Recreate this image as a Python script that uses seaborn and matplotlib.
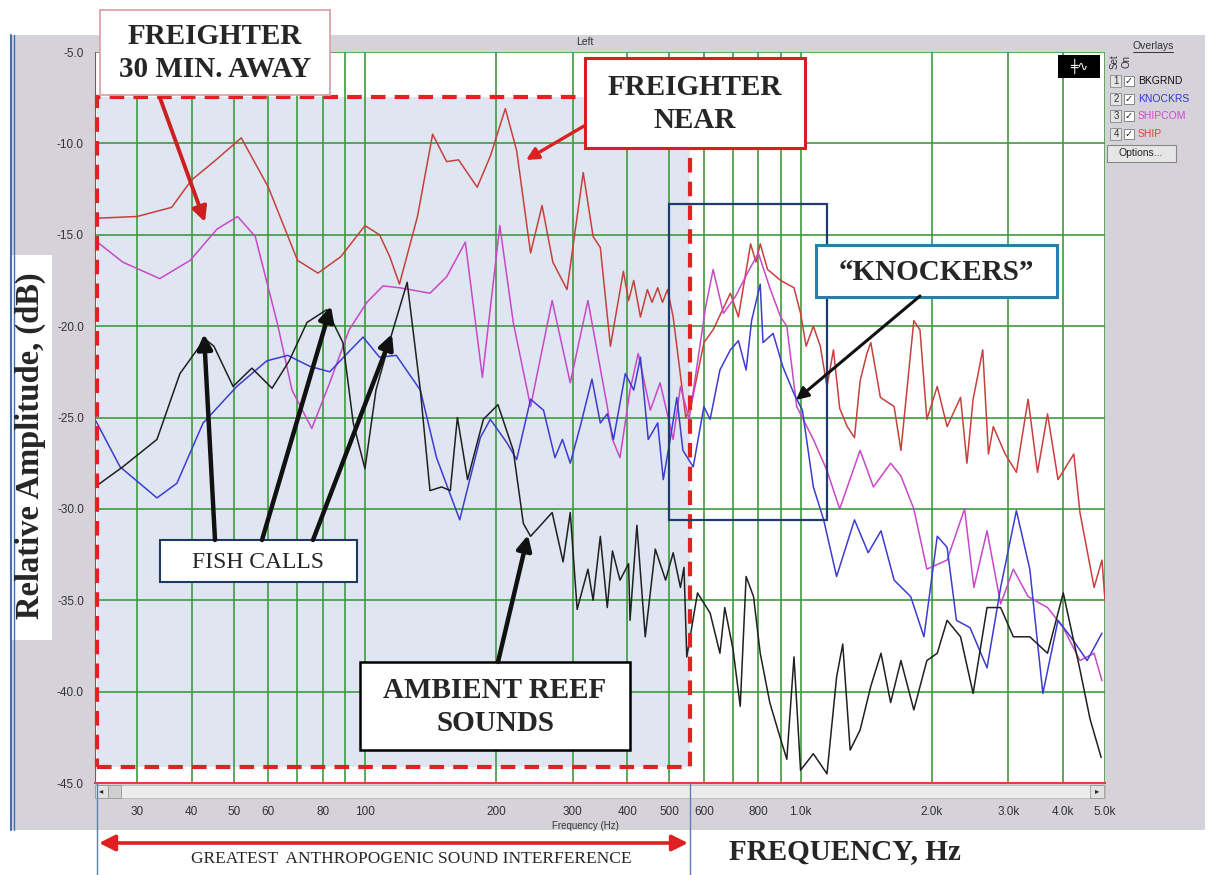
import numpy as np
import pandas as pd
import matplotlib
matplotlib.use("Agg")
import matplotlib.pyplot as plt
from matplotlib.patches import Rectangle, FancyArrowPatch
from matplotlib.lines import Line2D
import seaborn as sns

# ---- spectra (frequency in Hz, relative amplitude in dB) ----
ship_freq = [24, 30, 36, 40, 45, 52, 60, 70, 78, 88, 100, 108, 114, 120, 132, 143, 154, 164,
             181, 194, 210, 223, 240, 255, 270, 291, 317, 334, 347, 366, 392, 403, 414, 429,
             445, 456, 470, 482, 495, 510, 545, 560, 600, 630, 690, 720, 768, 790, 808, 840,
             900, 966, 1000, 1030, 1070, 1110, 1150, 1190, 1230, 1280, 1330, 1370, 1420, 1450,
             1525, 1640, 1700, 1820, 1880, 1950, 2060, 2170, 2330, 2410, 2490, 2620, 2700,
             2770, 2950, 3130, 3330, 3500, 3690, 3900, 4240, 4380, 4720, 4920, 5000]
ship_db = [-14.1, -14.0, -13.5, -12.0, -11.0, -9.7, -12.4, -16.4, -17.1, -16.2, -14.5, -15.0,
           -16.2, -17.7, -14.0, -9.5, -11.0, -10.9, -12.4, -10.7, -8.1, -10.4, -16.0, -13.4,
           -16.5, -18.0, -11.6, -15.1, -15.7, -21.1, -17.0, -18.6, -17.5, -19.5, -18.0, -18.7,
           -17.9, -18.7, -18.0, -19.5, -25.0, -24.4, -20.9, -20.2, -18.2, -19.5, -15.5, -16.5,
           -15.5, -16.9, -17.5, -17.9, -19.3, -21.1, -20.0, -21.1, -23.3, -21.3, -24.5, -25.5,
           -26.1, -23.0, -21.5, -20.9, -23.9, -24.4, -26.8, -19.7, -20.2, -25.1, -23.3, -25.5,
           -23.9, -27.5, -24.0, -21.3, -27.0, -25.5, -27.0, -28.0, -24.0, -28.0, -24.8, -28.4,
           -27.0, -30.2, -34.3, -32.8, -35.0]

shipcom_freq = [24, 27.8, 33.8, 39.7, 45.7, 51, 56, 63, 68, 75.5, 83, 92, 101, 110, 120, 141,
                154, 170, 186, 204, 219, 240, 269, 296, 325, 360, 370, 385, 406, 424, 452, 476,
                510, 530, 555, 605, 630, 665, 708, 755, 800, 850, 900, 930, 980, 1070, 1150,
                1230, 1370, 1470, 1610, 1700, 1820, 1950, 2170, 2380, 2500, 2680, 2880, 3080,
                3330, 3690, 4010, 4380, 4720, 4920]
shipcom_db = [-15.3, -16.5, -17.4, -16.4, -14.7, -14.0, -15.1, -19.9, -23.5, -25.6, -23.1,
              -20.2, -18.7, -17.8, -17.9, -18.2, -17.3, -15.4, -22.8, -14.5, -19.8, -24.4,
              -18.6, -23.1, -18.6, -24.4, -26.2, -27.2, -23.5, -21.5, -24.6, -23.1, -26.2,
              -23.3, -25.1, -19.0, -16.9, -19.3, -18.4, -17.1, -16.0, -17.9, -19.5, -20.0,
              -24.4, -26.2, -27.9, -30.0, -26.8, -28.8, -27.5, -28.2, -30.0, -33.3, -32.8,
              -30.0, -34.3, -31.2, -35.2, -33.3, -34.8, -35.4, -36.5, -38.3, -37.9, -39.4]

knockrs_freq = [24, 27.4, 33.3, 37, 42.5, 50.8, 59.5, 66.5, 74.7, 83, 91, 99, 108, 118, 134,
                146, 165, 184, 194, 212, 223, 240, 257, 273, 284, 296, 312, 332, 347, 360, 372,
                396, 414, 429, 447, 470, 484, 502, 520, 537, 567, 600, 620, 653, 690, 720, 750,
                772, 808, 820, 865, 910, 966, 1010, 1070, 1130, 1210, 1330, 1430, 1530, 1640,
                1790, 1920, 2060, 2170, 2280, 2450, 2680, 2880, 3130, 3360, 3600, 3900, 4170,
                4550, 4920]
knockrs_db = [-25.1, -27.7, -29.4, -28.6, -25.3, -23.3, -21.9, -21.6, -22.2, -22.5, -21.5,
              -20.6, -21.7, -21.6, -23.5, -27.2, -30.6, -26.1, -25.1, -26.4, -27.3, -24.0,
              -24.6, -27.2, -26.2, -27.5, -25.5, -22.9, -25.3, -24.8, -26.2, -22.6, -23.5,
              -21.7, -26.2, -25.3, -28.4, -26.2, -23.9, -26.8, -27.7, -24.4, -25.1, -22.4,
              -21.3, -20.8, -22.4, -19.7, -17.7, -20.9, -20.4, -22.2, -23.7, -24.6, -28.8,
              -30.6, -33.7, -30.6, -32.4, -31.2, -33.9, -34.8, -37.0, -31.5, -32.1, -36.1,
              -36.5, -38.7, -34.3, -30.1, -33.3, -40.1, -36.1, -37.0, -38.3, -36.8]

bkgrnd_freq = [24, 27.8, 33.3, 37.6, 42.9, 45, 49.8, 55, 61.2, 67, 73.6, 81.7, 89, 94, 100,
               106, 114, 125, 134, 141, 150, 157, 163, 172, 187, 202, 219, 231, 240, 269, 285,
               296, 307, 325, 334, 347, 360, 370, 385, 403, 406, 421, 440, 464, 490, 510, 530,
               540, 548, 580, 620, 653, 670, 700, 727, 750, 780, 808, 850, 900, 930, 966, 1000,
               1070, 1150, 1210, 1250, 1300, 1370, 1450, 1530, 1610, 1700, 1820, 1950, 2060,
               2170, 2330, 2490, 2680, 2880, 3080, 3360, 3690, 4010, 4380, 4620, 4900]
bkgrnd_db = [-28.8, -27.7, -26.2, -22.6, -20.7, -21.1, -23.3, -22.3, -23.4, -21.9, -19.8,
             -19.1, -20.9, -25.3, -27.8, -23.5, -20.8, -17.6, -23.5, -29.0, -28.8, -29.0,
             -25.0, -28.4, -25.1, -24.3, -26.8, -30.8, -31.5, -30.2, -32.9, -30.2, -35.5,
             -33.3, -35.0, -31.5, -35.4, -32.3, -33.9, -33.0, -36.1, -30.9, -37.0, -32.2,
             -33.9, -32.4, -34.3, -33.2, -38.1, -34.6, -35.7, -37.9, -35.4, -37.7, -40.8,
             -33.7, -34.8, -37.9, -40.6, -42.6, -43.7, -38.1, -44.3, -43.4, -44.5, -39.2,
             -37.4, -43.2, -42.1, -39.7, -37.9, -40.6, -38.3, -41.0, -38.3, -37.9, -36.1,
             -37.0, -40.1, -35.4, -35.4, -37.0, -37.0, -37.9, -34.6, -38.8, -41.5, -43.6]

series_names = ["SHIP", "SHIPCOM", "KNOCKRS", "BKGRND"]
series_colors = {"SHIP": "#c8403c", "SHIPCOM": "#c848c8", "KNOCKRS": "#3c3cd0", "BKGRND": "#202020"}

x_major = [30, 40, 50, 60, 80, 100, 200, 300, 400, 500, 600, 800, 1000, 2000, 3000, 4000, 5000]
x_major_labels = ["30", "40", "50", "60", "80", "100", "200", "300", "400", "500", "600", "800",
                  "1.0k", "2.0k", "3.0k", "4.0k", "5.0k"]
x_minor = [70, 90, 700, 900]
y_ticks = [-5, -10, -15, -20, -25, -30, -35, -40, -45]
y_labels = ["-5.0", "-10.0", "-15.0", "-20.0", "-25.0", "-30.0", "-35.0", "-40.0", "-45.0"]

W, H = 1209, 875


def fx(x):
    return x / W


def fy(y):
    return 1 - y / H


def main():
    frames = []
    for name, fr, db in [("SHIP", ship_freq, ship_db), ("SHIPCOM", shipcom_freq, shipcom_db),
                         ("KNOCKRS", knockrs_freq, knockrs_db), ("BKGRND", bkgrnd_freq, bkgrnd_db)]:
        frames.append(pd.DataFrame({"freq": fr, "db": db, "series": name}))
    df = pd.concat(frames, ignore_index=True)

    sns.set_style("white")
    plt.rcParams["font.family"] = ["Liberation Sans", "DejaVu Sans"]

    fig = plt.figure(figsize=(W / 100, H / 100), dpi=100)
    fig.patch.set_facecolor("white")

    def rect(x0, y0, x1, y1, **kw):
        r = Rectangle((fx(x0), fy(y1)), (x1 - x0) / W, (y1 - y0) / H,
                      transform=fig.transFigure, **kw)
        fig.add_artist(r)
        return r

    def arrow(x0, y0, x1, y1, color, lw, scale=22, style="-|>"):
        a = FancyArrowPatch((fx(x0), fy(y0)), (fx(x1), fy(y1)), transform=fig.transFigure,
                            arrowstyle=style, mutation_scale=scale, lw=lw, color=color,
                            shrinkA=0, shrinkB=0, zorder=4)
        fig.add_artist(a)

    def vline(x, y0, y1, color, lw):
        fig.add_artist(Line2D([fx(x), fx(x)], [fy(y0), fy(y1)], transform=fig.transFigure,
                              color=color, lw=lw, zorder=4))

    # gray software panel behind the plot
    rect(12, 35, 1205, 830, facecolor="#d5d2d9", edgecolor="none", zorder=-2)
    vline(11, 35, 830, "#4a6fb0", 1.5)
    vline(14, 35, 830, "#4a6fb0", 1.0)
    fig.text(fx(585), fy(42), "Left", fontsize=7.5, color="#333333", ha="center", va="center")

    ax = fig.add_axes([fx(95), fy(783), (1105 - 95) / W, (783 - 52) / H])
    ax.set_facecolor("white")
    ax.set_axisbelow("line")

    # shaded band of greatest anthropogenic interference
    shade = Rectangle((fx(97), fy(767)), (690 - 97) / W, (767 - 97) / H, transform=fig.transFigure,
                      facecolor="#dfe6f1", edgecolor="none", zorder=0.8)
    ax.add_patch(shade)

    sns.lineplot(data=df, x="freq", y="db", hue="series", hue_order=series_names,
                 palette=series_colors, estimator=None, sort=False, legend=False,
                 lw=1.1, ax=ax, zorder=2)

    ax.set_xscale("log")
    ax.set_xlim(24, 5000)
    ax.set_ylim(-45, -5)
    ax.set_xticks(x_major, x_major_labels)
    ax.set_xticks(x_minor, minor=True)
    ax.set_xticklabels([], minor=True)
    ax.set_yticks(y_ticks, y_labels)
    ax.grid(True, which="both", color="#3f9a40", lw=1.2)
    ax.tick_params(axis="x", which="both", length=0, pad=16.5, labelsize=8.5, colors="#333333")
    ax.tick_params(axis="y", length=5, width=1, pad=3, labelsize=8.5, colors="#333333")
    ax.set_xlabel("")
    ax.set_ylabel("")
    for s in ["top", "right"]:
        ax.spines[s].set_visible(False)
    ax.spines["left"].set_color("#666666")
    ax.spines["bottom"].set_color("#e04040")
    ax.spines["bottom"].set_linewidth(1.5)

    # red dashed box and knockers box
    ax.add_patch(Rectangle((fx(97), fy(767)), (690 - 97) / W, (767 - 97) / H,
                           transform=fig.transFigure, facecolor="none", edgecolor="#e02222",
                           lw=3, linestyle=(0, (3.5, 2.2)), zorder=3, clip_on=False))
    ax.add_patch(Rectangle((fx(669), fy(520)), (827 - 669) / W, (520 - 204) / H,
                           transform=fig.transFigure, facecolor="none", edgecolor="#1f3c6e",
                           lw=1.6, zorder=3, clip_on=False))

    # scrollbar under the plot
    rect(95, 785, 1105, 798, facecolor="#ececec", edgecolor="#bbbbbb", lw=0.6, zorder=1)
    rect(95, 785, 108, 798, facecolor="#e2e2e2", edgecolor="#999999", lw=0.6, zorder=1)
    rect(108, 785, 121, 798, facecolor="#cfcfcf", edgecolor="#999999", lw=0.6, zorder=1)
    rect(1090, 785, 1104, 798, facecolor="#e2e2e2", edgecolor="#999999", lw=0.6, zorder=1)
    fig.text(fx(101), fy(791), "◂", fontsize=6, ha="center", va="center", family="DejaVu Sans")
    fig.text(fx(1097), fy(791), "▸", fontsize=6, ha="center", va="center", family="DejaVu Sans")
    fig.text(fx(585), fy(826), "Frequency (Hz)", fontsize=7, color="#333333", ha="center", va="center")

    # instrument icon
    rect(1058, 55, 1100, 78, facecolor="black", edgecolor="none", zorder=2)
    fig.text(fx(1079), fy(66), "╪∿", fontsize=9, color="white", ha="center", va="center",
             family="DejaVu Sans", zorder=3)

    # overlay panel
    fig.text(fx(1153), fy(46), "Overlays", fontsize=7.5, color="#333333", ha="center", va="center")
    fig.add_artist(Line2D([fx(1133), fx(1173)], [fy(52), fy(52)], transform=fig.transFigure,
                          color="#333333", lw=0.7))
    fig.text(fx(1115), fy(62), "Set", fontsize=7, color="#333333", rotation=90, ha="center", va="center")
    fig.text(fx(1127), fy(62), "On", fontsize=7, color="#333333", rotation=90, ha="center", va="center")
    legend_colors = ["#111111", "#3333dd", "#d844d8", "#ee3a3a"]
    legend_names = ["BKGRND", "KNOCKRS", "SHIPCOM", "SHIP"]
    for i, (nm, col) in enumerate(zip(legend_names, legend_colors)):
        yc = 81 + i * 17.6
        rect(1110, yc - 6, 1121, yc + 6, facecolor="#e4e4e4", edgecolor="#888888", lw=0.6, zorder=2)
        fig.text(fx(1116), fy(yc), str(i + 1), fontsize=7, color="#333333", ha="center", va="center")
        rect(1124, yc - 5, 1134, yc + 5, facecolor="white", edgecolor="#777777", lw=0.6, zorder=2)
        fig.text(fx(1129), fy(yc), "✓", fontsize=7, color="#222222", ha="center", va="center",
                 family="DejaVu Sans")
        fig.text(fx(1138), fy(yc), nm, fontsize=7.5, color=col, ha="left", va="center")
    rect(1107, 145, 1176, 162, facecolor="#e6e6e6", edgecolor="#888888", lw=0.8, zorder=2)
    fig.text(fx(1141), fy(153), "Options...", fontsize=7.5, color="#222222", ha="center", va="center")

    serif = ["Liberation Serif", "DejaVu Serif"]

    # annotation boxes
    rect(100, 10, 330, 95, facecolor="white", edgecolor="#dba2aa", lw=1.3, zorder=3)
    fig.text(fx(215), fy(53), "FREIGHTER\n30 MIN. AWAY", fontsize=21, fontweight="bold",
             family=serif, ha="center", va="center", linespacing=1.25, zorder=5)
    arrow(160, 98, 205, 222, "#cc2020", 2.8)

    rect(585, 58, 805, 148, facecolor="white", edgecolor="#d42020", lw=2.2, zorder=3)
    fig.text(fx(695), fy(104), "FREIGHTER\nNEAR", fontsize=21, fontweight="bold",
             family=serif, ha="center", va="center", linespacing=1.25, zorder=5)
    arrow(584, 126, 526, 160, "#dd2020", 2.4, scale=18)

    rect(816, 245, 1057, 297, facecolor="white", edgecolor="#2a7fa8", lw=2.2, zorder=3)
    fig.text(fx(936), fy(272), "\u201cKNOCKERS\u201d", fontsize=21, fontweight="bold",
             family=serif, ha="center", va="center", zorder=5)
    arrow(920, 296, 796, 400, "#111111", 2.2, scale=18)

    rect(160, 540, 357, 582, facecolor="white", edgecolor="#1f3a60", lw=1.5, zorder=3)
    fig.text(fx(258), fy(562), "FISH CALLS", fontsize=17, family=serif, ha="center",
             va="center", zorder=5)
    arrow(215, 540, 204, 334, "#111111", 3.2)
    arrow(262, 540, 331, 306, "#111111", 3.2)
    arrow(313, 540, 392, 334, "#111111", 3.2)

    rect(360, 662, 630, 750, facecolor="white", edgecolor="black", lw=1.8, zorder=3)
    fig.text(fx(495), fy(707), "AMBIENT REEF\nSOUNDS", fontsize=21, fontweight="bold",
             family=serif, ha="center", va="center", linespacing=1.25, zorder=5)
    arrow(498, 662, 528, 535, "#111111", 3.2)

    # y axis title box
    rect(0, 255, 52, 640, facecolor="white", edgecolor="none", zorder=3)
    fig.text(fx(30), fy(446), "Relative Amplitude, (dB)", fontsize=23.5, fontweight="bold",
             family=serif, rotation=90, ha="center", va="center", zorder=5)

    # bottom: interference span and x title
    vline(97, 783, 875, "#5a7fc0", 1.0)
    vline(690, 783, 875, "#5a7fc0", 1.0)
    arrow(99, 843, 688, 843, "#e02020", 2.6, scale=24, style="<|-|>")
    fig.text(fx(411), fy(859), "GREATEST  ANTHROPOGENIC SOUND INTERFERENCE", fontsize=12.5,
             family=serif, ha="center", va="center", zorder=5)
    fig.text(fx(845), fy(852), "FREQUENCY, Hz", fontsize=21, fontweight="bold",
             family=serif, ha="center", va="center", zorder=5)

    fig.savefig("out.png", dpi=100)


if __name__ == "__main__":
    main()
